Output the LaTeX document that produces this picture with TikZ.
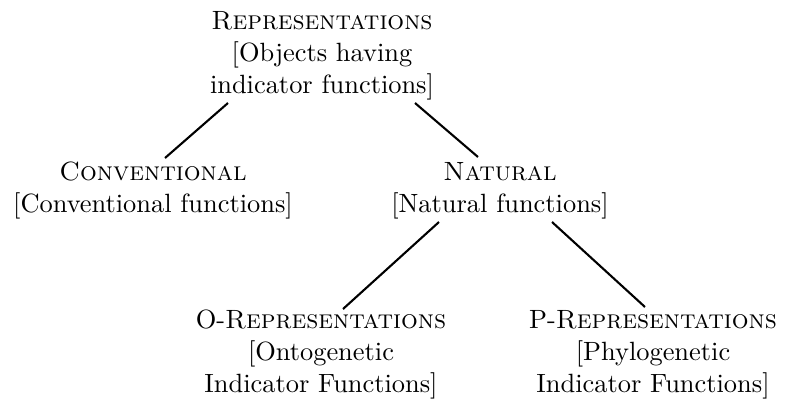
\documentclass[tikz,border=0pt]{standalone}
\usepackage{fontspec}
\setmainfont{lmroman10-regular}[Extension=.otf,
  SmallCapsFont=lmromancaps10-regular.otf]
\begin{document}
\begin{tikzpicture}[x=1bp,y=-1bp,
  catnode/.style={align=center,anchor=base,inner sep=0pt,
    font=\fontsize{26.5}{31.8}\selectfont},
  branch/.style={line width=2.1bp}]
\useasboundingbox (0,0) rectangle (793,402);
% category nodes, placed by the baseline of their last line
\node[catnode] (root) at (322,93) {\textsc{Representations}\\ {[}Objects having\\ indicator functions{]}};
\node[catnode] (conv) at (153,212) {\textsc{Conventional}\\ {[}Conventional functions{]}};
\node[catnode] (nat) at (500,212) {\textsc{Natural}\\ {[}Natural functions{]}};
\node[catnode] (orep) at (321,392) {O-\textsc{Representations}\\ {[}Ontogenetic\\ Indicator Functions{]}};
\node[catnode] (prep) at (653,392) {P-\textsc{Representations}\\ {[}Phylogenetic\\ Indicator Functions{]}};
% branches of the tree
\draw[branch] ([shift={(-94,10)}]root.base) -- ([shift={(12,-54)}]conv.base);
\draw[branch] ([shift={(93,10)}]root.base) -- ([shift={(-22,-55)}]nat.base);
\draw[branch] ([shift={(-61,10)}]nat.base) -- ([shift={(22,-83)}]orep.base);
\draw[branch] ([shift={(52,10)}]nat.base) -- ([shift={(-8,-85)}]prep.base);
\end{tikzpicture}
\end{document}
